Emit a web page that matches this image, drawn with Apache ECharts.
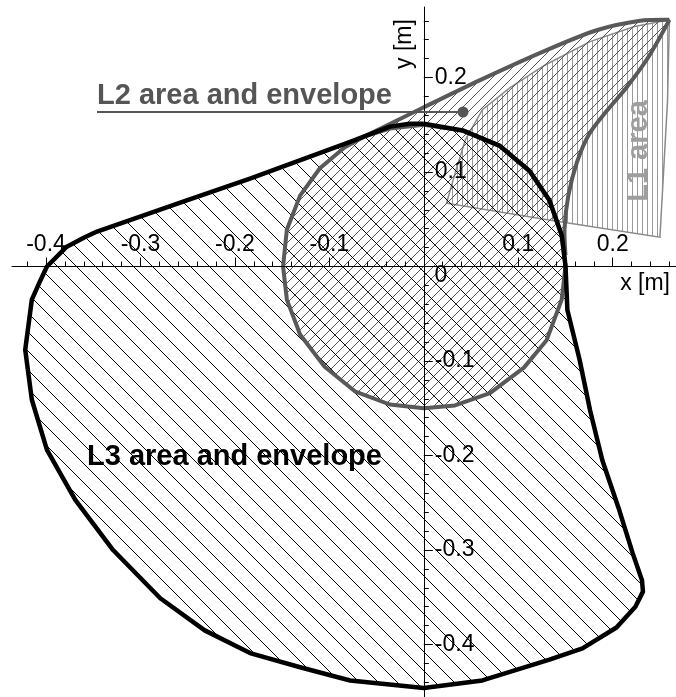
<!DOCTYPE html>
<html>
<head>
<meta charset="utf-8">
<script src="https://cdn.jsdelivr.net/npm/echarts@6/dist/echarts.min.js"></script>
<style>
html, body { margin: 0; padding: 0; background: #fff; }
#chart { width: 676px; height: 697px; }
</style>
</head>
<body>
<div id="chart"></div>
<script>
// outlines, [x, y] in metres
const l3Outline = [
  [0.000, 0.151], [0.041, 0.144], [0.080, 0.128], [0.112, 0.101], [0.133, 0.070],
  [0.146, 0.033], [0.150, 0.001], [0.152, -0.046], [0.165, -0.099], [0.176, -0.152],
  [0.189, -0.205], [0.207, -0.258], [0.221, -0.303], [0.231, -0.332], [0.232, -0.344],
  [0.224, -0.360], [0.204, -0.382], [0.168, -0.404], [0.133, -0.416], [0.062, -0.438],
  [0.000, -0.446], [-0.078, -0.438], [-0.131, -0.424], [-0.184, -0.409], [-0.232, -0.385],
  [-0.279, -0.351], [-0.329, -0.300], [-0.369, -0.247], [-0.399, -0.194], [-0.415, -0.141],
  [-0.422, -0.088], [-0.415, -0.035], [-0.407, -0.017], [-0.399, 0.000], [-0.378, 0.021],
  [-0.359, 0.031], [-0.346, 0.037], [-0.251, 0.070], [-0.184, 0.093], [-0.078, 0.132],
  [-0.036, 0.148], [-0.015, 0.151]
]

const l2Circle = [
  [0.000, 0.150], [0.041, 0.144], [0.080, 0.128], [0.112, 0.101], [0.133, 0.070],
  [0.146, 0.033], [0.150, 0.000], [0.146, -0.035], [0.130, -0.078], [0.106, -0.107],
  [0.070, -0.134], [0.033, -0.147], [0.000, -0.150], [-0.036, -0.146], [-0.073, -0.132],
  [-0.105, -0.106], [-0.131, -0.072], [-0.145, -0.035], [-0.149, 0.000], [-0.145, 0.039],
  [-0.131, 0.075], [-0.110, 0.104], [-0.084, 0.126], [-0.062, 0.138], [-0.036, 0.146],
  [0.000, 0.150]
]

// tangent line up to the top-right corner
const l2Upper = [
  [-0.062, 0.138], [-0.001, 0.168], [0.059, 0.197], [0.130, 0.229], [0.183, 0.250],
  [0.229, 0.260], [0.260, 0.261]
]
// curve from the corner back down onto the circle
const l2Lower = [
  [0.260, 0.261], [0.238, 0.222], [0.215, 0.190], [0.194, 0.165], [0.175, 0.140],
  [0.162, 0.110], [0.153, 0.075], [0.149, 0.040], [0.150, 0.012]
]

const l1Area = [
  [0.024, 0.067], [0.034, 0.102], [0.044, 0.134], [0.062, 0.166], [0.091, 0.189],
  [0.128, 0.213], [0.176, 0.238], [0.223, 0.254], [0.260, 0.261], [0.258, 0.175],
  [0.250, 0.031], [0.134, 0.049]
]

const xMajor = [-0.4, -0.3, -0.2, -0.1, 0.1, 0.2]
const yMajor = [-0.4, -0.3, -0.2, -0.1, 0.1, 0.2]
const xMinor = [-0.42, -0.38, -0.36, -0.34, -0.32, -0.28, -0.26, -0.24, -0.22, -0.18, -0.16,
  -0.14, -0.12, -0.08, -0.06, -0.04, -0.02, 0.02, 0.04, 0.06, 0.08, 0.12, 0.14, 0.16, 0.18,
  0.22, 0.24, 0.26]
const yMinor = [-0.44, -0.42, -0.38, -0.36, -0.34, -0.32, -0.28, -0.26, -0.24, -0.22, -0.18,
  -0.16, -0.14, -0.12, -0.08, -0.06, -0.04, -0.02, 0.02, 0.04, 0.06, 0.08, 0.12, 0.14, 0.16,
  0.18, 0.22, 0.24, 0.26]

const xRange = [-0.436, 0.267]
const yRange = [-0.4555, 0.2746]

// L2 area = envelope on top, lower part of the circle underneath
const l2Area = l2Upper.concat(l2Lower.slice(1), l2Circle.slice(6, 24))

const font = 'Liberation Sans, Arial, sans-serif'
const gridBox = { left: 12, right: 0, top: 7, bottom: 0 }
const gridW = 676 - gridBox.left - gridBox.right
const gridH = 697 - gridBox.top - gridBox.bottom

// move the axes onto x = 0 / y = 0
const xAxisOffset = -(0 - yRange[0]) / (yRange[1] - yRange[0]) * gridH
const yAxisOffset = -(0 - xRange[0]) / (xRange[1] - xRange[0]) * gridW

function hatch(size, color, paint) {
  let c = document.createElement('canvas')
  c.width = size
  c.height = size
  let g = c.getContext('2d')
  g.strokeStyle = color
  g.fillStyle = color
  g.lineWidth = 1
  paint(g, size)
  return { image: c, repeat: 'repeat' }
}

// "\" lines
let backHatch = hatch(19, '#000', (g, s) => {
  g.beginPath()
  for (let k = -1; k <= 1; k++) {
    g.moveTo(-1, k * s - 1)
    g.lineTo(s + 1, (k + 1) * s + 1)
  }
  g.stroke()
})
// "/" lines
let fwdHatch = hatch(10, '#555', (g, s) => {
  g.beginPath()
  for (let c = 0; c <= 2 * s; c += s) {
    g.moveTo(-1, c + 1)
    g.lineTo(s + 1, c - s - 1)
  }
  g.stroke()
})
// vertical lines
let vertHatch = hatch(5, '#9a9a9a', (g, s) => {
  g.fillRect(2, 0, 1, s)
})

function shape(name, points, type, style, z, smooth) {
  return {
    type: 'custom',
    name: name,
    coordinateSystem: 'cartesian2d',
    silent: true,
    clip: false,
    z: z,
    data: [[0, 0]],
    renderItem: (params, api) => ({
      type: type,
      shape: { points: points.map(p => api.coord(p)), smooth: smooth || 0 },
      style: style
    })
  }
}

function axisX(ticks, len, labels) {
  return {
    type: 'value',
    position: 'bottom',
    offset: xAxisOffset,
    min: xRange[0],
    max: xRange[1],
    z: 10,
    axisLine: { show: labels, onZero: false, lineStyle: { color: '#000', width: 1 } },
    axisTick: { inside: true, length: len, customValues: ticks, lineStyle: { color: '#000', width: 1 } },
    axisLabel: {
      show: labels, inside: true, margin: 10, customValues: ticks,
      color: '#000', fontSize: 23, fontFamily: font
    },
    splitLine: { show: false }
  }
}

function axisY(ticks, len, labels) {
  return {
    type: 'value',
    position: 'left',
    offset: yAxisOffset,
    min: yRange[0],
    max: yRange[1],
    z: 10,
    axisLine: { show: labels, onZero: false, lineStyle: { color: '#000', width: 1 } },
    axisTick: { inside: true, length: len, customValues: ticks, lineStyle: { color: '#000', width: 1 } },
    axisLabel: {
      show: labels, inside: true, margin: 11, customValues: ticks,
      color: '#000', fontSize: 23, fontFamily: font
    },
    splitLine: { show: false }
  }
}

let chart = echarts.init(document.getElementById('chart'))

chart.setOption({
  animation: false,
  backgroundColor: '#fff',
  grid: Object.assign({ containLabel: false, outerBoundsMode: 'none' }, gridBox),
  xAxis: [axisX(xMajor, 9, true), axisX(xMinor, 5, false)],
  yAxis: [axisY(yMajor, 9, true), axisY(yMinor, 5, false)],
  series: [
    shape('L1 area', l1Area, 'polygon', { fill: vertHatch, stroke: '#8a8a8a', lineWidth: 1.5 }, 1),
    shape('L2 area', l2Area, 'polygon', { fill: fwdHatch, stroke: null }, 2),
    shape('L3 area', l3Outline, 'polygon', { fill: backHatch, stroke: null }, 3),
    shape('L2 circle', l2Circle, 'polyline', { fill: null, stroke: '#595959', lineWidth: 4, lineJoin: 'round' }, 4),
    shape('L2 envelope', l2Upper, 'polyline', { fill: null, stroke: '#595959', lineWidth: 4, lineJoin: 'round' }, 4, 0.25),
    shape('L2 envelope lower', l2Lower, 'polyline', { fill: null, stroke: '#595959', lineWidth: 4, lineJoin: 'round' }, 4, 0.3),
    shape('L3 envelope', l3Outline.concat([l3Outline[0]]), 'polyline', { fill: null, stroke: '#000', lineWidth: 4.5, lineJoin: 'round' }, 5)
  ],
  graphic: [
    { type: 'text', z: 20, x: 441, y: 276, style: { text: '0', font: '23px ' + font, fill: '#000', textAlign: 'center', textVerticalAlign: 'middle' } },
    { type: 'text', z: 20, x: 670, y: 284, style: { text: 'x [m]', font: '23px ' + font, fill: '#000', textAlign: 'right', textVerticalAlign: 'middle' } },
    { type: 'text', z: 20, x: 405, y: 44, rotation: Math.PI / 2, style: { text: 'y [m]', font: '23px ' + font, fill: '#000', textAlign: 'center', textVerticalAlign: 'middle' } },
    { type: 'text', z: 20, x: 87, y: 457, style: { text: 'L3 area and envelope', font: 'bold 29px ' + font, fill: '#000', textAlign: 'left', textVerticalAlign: 'middle' } },
    { type: 'text', z: 20, x: 97, y: 96, style: { text: 'L2 area and envelope', font: 'bold 29px ' + font, fill: '#555', textAlign: 'left', textVerticalAlign: 'middle' } },
    { type: 'line', z: 20, shape: { x1: 97, y1: 112, x2: 462, y2: 112 }, style: { stroke: '#555', lineWidth: 2 } },
    { type: 'circle', z: 20, shape: { cx: 463, cy: 112, r: 5.5 }, style: { fill: '#555' } },
    { type: 'text', z: 20, x: 639, y: 151, rotation: Math.PI / 2, style: { text: 'L1 area', font: 'bold 29px ' + font, fill: '#9e9e9e', textAlign: 'center', textVerticalAlign: 'middle' } }
  ]
})
</script>
</body>
</html>
